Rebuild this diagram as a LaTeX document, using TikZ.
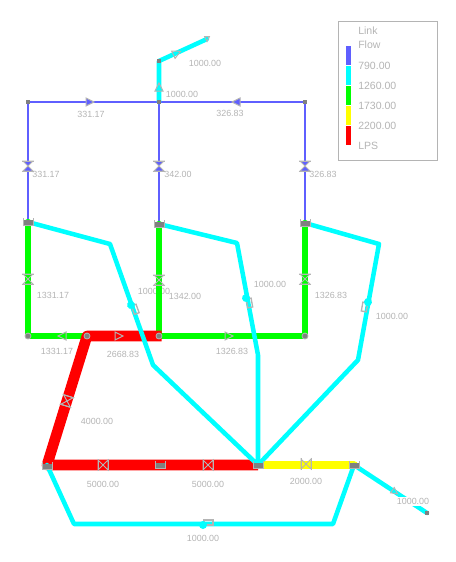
\documentclass[tikz,border=0pt]{standalone}
\usepackage{fontspec}
\setmainfont{Liberation Sans}
\usetikzlibrary{arrows.meta,calc}
\definecolor{linkblue}{HTML}{5F5FFF}
\definecolor{linkcyan}{HTML}{00FFFF}
\definecolor{linkgreen}{HTML}{00FF00}
\definecolor{linkyellow}{HTML}{FFFF00}
\definecolor{linkred}{HTML}{FF0000}
\definecolor{labelgray}{HTML}{B4B4B4}
\definecolor{markgray}{HTML}{808080}
\tikzset{
  symfill/.store in=\symfill,symfill=none,
  link/.style={line join=round,line cap=round},
  blueline/.style={link,linkblue,line width=1.9pt},
  cyanline/.style={link,linkcyan,line width=3.4pt},
  greenline/.style={link,linkgreen,line width=4.8pt},
  yellowline/.style={link,linkyellow,line width=5.8pt},
  redline/.style={line join=round,linkred,line width=8pt,shorten <=-2pt},
  flowlabel/.style={text=labelgray,font=\fontsize{6.7}{8}\selectfont,inner sep=0pt},
  legendlabel/.style={text=labelgray,font=\fontsize{7.9}{9}\selectfont,inner sep=0pt,anchor=west},
  junction/.style={fill=markgray,inner sep=0pt,minimum size=3.5pt},
  roundjunction/.style={circle,fill=markgray,draw=labelgray,line width=.6pt,inner sep=0pt,minimum size=4.5pt},
  symline/.style={draw=labelgray,line width=.75pt},
  valve/.pic={
    \path[symline,fill=\symfill] (-5,-5) -- (5,5) -- (5,-5) -- (-5,5) -- cycle;
    \draw[symline] (-5,-6) -- (-5,6) (5,-6) -- (5,6);
  },
  pump/.pic={
    \draw[symline] (-5,-4) -- (-5,3) -- (5,3) -- (5,-4);
    \fill[markgray] (-4.5,-2.5) rectangle (4.5,2.5);
  },
  flowarrow/.pic={
    \path[symline,fill=\symfill] (-4,-4) -- (4,0) -- (-4,4) -- cycle;
  },
  meter/.pic={
    \draw[symline,line width=1pt] (1,-5) rectangle (10,0);
    \fill[linkcyan] (0,0) circle (4);
  },
}
\begin{document}
\begin{tikzpicture}[x=.75pt,y=-.75pt]
  \useasboundingbox (0,0) rectangle (456,562);
  % network points
  \coordinate (tip) at (207,39);
  \coordinate (top) at (159,61);
  \coordinate (hub) at (159,102);
  \coordinate (hubl) at (28,102);
  \coordinate (hubr) at (305,102);
  \coordinate (pumpl) at (28,222);
  \coordinate (pumpm) at (159,224);
  \coordinate (pumpr) at (305,223);
  \coordinate (jl) at (28,336);
  \coordinate (jr) at (87,336);
  \coordinate (jm) at (159,336);
  \coordinate (je) at (305,336);
  \coordinate (mainl) at (47,465);
  \coordinate (mainm) at (258,465);
  \coordinate (mainr) at (354,465);
  \coordinate (outlet) at (427,513);
  \coordinate (bl1) at (110,244);
  \coordinate (bl2) at (153,365);
  \coordinate (bm1) at (237,243);
  \coordinate (bm2) at (258,355);
  \coordinate (br1) at (379,244);
  \coordinate (br2) at (358,360);
  \coordinate (bot1) at (74,524);
  \coordinate (bot2) at (333,524);
  % label hidden behind the green pipe
  \node[flowlabel] (flowa) at (154,291) {1000.00};
  % pipes
  \draw[blueline] (hubl) -- (hubr);
  \draw[blueline] (hubl) -- (pumpl);
  \draw[blueline] (hub) -- (pumpm);
  \draw[blueline] (hubr) -- (pumpr);
  \draw[cyanline] (tip) -- (top) -- (hub);
  \draw[greenline] (pumpl) -- (jl) -- (jr);
  \draw[greenline] (pumpm) -- (jm) -- (je) -- (pumpr);
  \draw[redline] (jm) -- (jr) -- (mainl) -- (mainm);
  \draw[yellowline] (mainm) -- (mainr);
  \draw[cyanline] (mainr) -- (outlet);
  \draw[cyanline] (pumpl) -- (bl1) -- (bl2) -- (mainm);
  \draw[cyanline] (pumpm) -- (bm1) -- (bm2) -- (mainm);
  \draw[cyanline] (pumpr) -- (br1) -- (br2) -- (mainm);
  \draw[cyanline] (mainl) -- (bot1) -- (bot2) -- (mainr);
  % flow values
  \foreach \x/\y/\t in {205/63/1000.00,182/94/1000.00,91/114/331.17,230/113/326.83,
      46/174/331.17,178/174/342.00,323/174/326.83,53/295/1331.17,185/296/1342.00,
      270/284/1000.00,331/295/1326.83,392/316/1000.00,57/351/1331.17,123/354/2668.83,
      232/351/1326.83,97/421/4000.00,103/484/5000.00,208/484/5000.00,306/481/2000.00,
      203/538/1000.00}
    \node[flowlabel] (flow\x) at (\x,\y) {\t};
  \node[flowlabel,fill=white,inner sep=1pt] (flowout) at (413,501) {1000.00};
  % symbols on the pipes
  \foreach \x/\y in {28/166,159/166,305/166} \pic[rotate=90,symfill=linkblue] at (\x,\y) {valve};
  \foreach \x/\y in {28/279,159/280,305/279} \pic[rotate=90] at (\x,\y) {valve};
  \foreach \x/\y in {103/465,208/465,306/464} \pic at (\x,\y) {valve};
  \pic[rotate=73] at (67,401) {valve};
  \pic[symfill=linkblue] at (90,102) {flowarrow};
  \pic[rotate=180,symfill=linkblue] at (236,102) {flowarrow};
  \pic[rotate=90,symfill=linkcyan] at (159,87) {flowarrow};
  \pic[rotate=25] at (177,53) {flowarrow};
  \pic at (119,336) {flowarrow};
  \pic[rotate=180] at (62,336) {flowarrow};
  \pic at (229,336) {flowarrow};
  \pic[scale=.8,rotate=-35] at (395,492) {flowarrow};
  \pic[scale=.6,rotate=-90] at (207,39) {flowarrow};
  \pic[rotate=-70] at (131,305) {meter};
  \pic[rotate=-80] at (246,298) {meter};
  \pic[rotate=-100,yscale=-1] at (368,302) {meter};
  \pic at (203,525) {meter};
  \foreach \n/\x/\y in {pumpl/28/222,pumpm/159/224,pumpr/305/223,mainl/47/466,mainm/258/465,mainr/354/465,pumpc/160/465}
    \pic at (\x,\y) {pump};
  % junction marks
  \foreach \n in {top,hub,hubl,hubr,outlet} \node[junction] (m\n) at (\n) {};
  \foreach \n in {jl,jr,jm,je} \node[roundjunction] (m\n) at (\n) {};
  % legend
  \draw[labelgray,line width=.75pt] (338,21) rectangle (437,160);
  \foreach \y/\c in {46/linkblue,66/linkcyan,86/linkgreen,106/linkyellow,126/linkred}
    \fill[\c] (346,\y) rectangle (351,\y+19);
  \foreach \y/\t in {31/Link,45/Flow,66/790.00,86/1260.00,106/1730.00,126/2200.00,146/LPS}
    \node[legendlabel] (key\y) at (358,\y) {\t};
\end{tikzpicture}
\end{document}
